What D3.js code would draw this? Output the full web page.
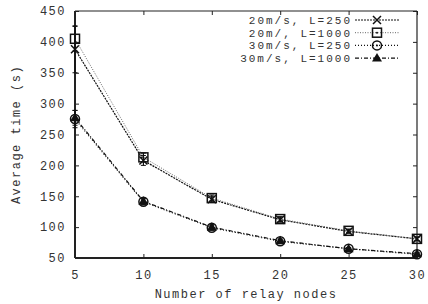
<!DOCTYPE html>
<html>
<head>
<meta charset="utf-8">
<script src="https://cdn.jsdelivr.net/npm/d3@7"></script>
<style>
  body { margin: 0; background: #fff; }
  text { font-family: "Liberation Mono", "DejaVu Sans Mono", monospace; font-size: 12px; letter-spacing: 1.5px; fill: #333; }
  .legend text { font-size: 11px; letter-spacing: 2px; }
</style>
</head>
<body>
<svg id="chart" width="428" height="304"></svg>
<script>
const nodes = [5, 10, 15, 20, 25, 30];
const seriesNames = ['20m/s, L=250', '20m/, L=1000', '30m/s, L=250', '30m/s, L=1000'];
const s1 = [388, 208, 145, 112, 93, 81];
const s2 = [405, 213, 147, 113, 94, 81];
const s3 = [275, 141, 99, 77, 65, 56];
const s4 = [277, 142, 100, 78, 65, 57];
const e1 = [38, 8, 5, 4, 3, 3];
const e2 = [20, 7, 5, 4, 3, 3];
const e3 = [14, 5, 4, 3, 2, 2];
const e4 = [12, 5, 4, 3, 2, 2];
const yTicks = [50, 100, 150, 200, 250, 300, 350, 400, 450];
const xTicks = [5, 10, 15, 20, 25, 30];

const margin = { top: 11, right: 11, bottom: 46, left: 75 };
const w = 428, h = 304;
const width = w - margin.left - margin.right;
const height = h - margin.top - margin.bottom;

const svg = d3.select('#chart');
const g = svg.append('g').attr('transform', `translate(${margin.left},${margin.top})`);

const x = d3.scaleLinear().domain([5, 30]).range([0, width]);
const y = d3.scaleLinear().domain([50, 450]).range([height, 0]);

const styles = [
  { dash: '2,1', color: '#111', width: 1.2, marker: 'cross' },
  { dash: '1,1.5', color: '#666', width: 1, marker: 'square' },
  { dash: '1,2', color: '#111', width: 1.2, marker: 'circle' },
  { dash: '4,2,1,2', color: '#111', width: 1.2, marker: 'triangle' }
];
const values = [s1, s2, s3, s4];
const errors = [e1, e2, e3, e4];

// axes (inward ticks, mirrored)
const axB = d3.axisBottom(x).tickValues(xTicks).tickSize(-4).tickPadding(12);
const axL = d3.axisLeft(y).tickValues(yTicks).tickSize(-4).tickPadding(9);
const axT = d3.axisTop(x).tickValues(xTicks).tickSize(-4).tickFormat('');
const axR = d3.axisRight(y).tickValues(yTicks).tickSize(-4).tickFormat('');

g.append('g').attr('class', 'axis-x').attr('transform', `translate(0,${height})`).call(axB);
g.append('g').attr('class', 'axis-y').call(axL);
g.append('g').attr('class', 'axis-top').call(axT);
g.append('g').attr('class', 'axis-right').attr('transform', `translate(${width},0)`).call(axR);

g.selectAll('.domain').remove();
g.selectAll('.tick line').attr('stroke', '#222');
g.selectAll('.tick text').attr('font-family', null).attr('font-size', null).attr('fill', '#333');

// frame
g.append('line').attr('x1', 0).attr('x2', width).attr('y1', 0).attr('y2', 0).attr('stroke', '#222').attr('stroke-width', 1.2);
g.append('line').attr('x1', width).attr('x2', width).attr('y1', 0).attr('y2', height).attr('stroke', '#222').attr('stroke-width', 1.2);
g.append('line').attr('x1', 0).attr('x2', width).attr('y1', height).attr('y2', height).attr('stroke', '#222').attr('stroke-width', 2);
g.append('line').attr('x1', 0).attr('x2', 0).attr('y1', 0).attr('y2', height).attr('stroke', '#222').attr('stroke-width', 2);

function drawMarker(sel, type, cx, cy) {
  if (type === 'cross') {
    sel.append('path').attr('d', `M${cx - 4},${cy - 4}L${cx + 4},${cy + 4}M${cx - 4},${cy + 4}L${cx + 4},${cy - 4}`)
      .attr('stroke', '#111').attr('stroke-width', 1.5);
  } else if (type === 'square') {
    sel.append('rect').attr('x', cx - 4.5).attr('y', cy - 4.5).attr('width', 9).attr('height', 9)
      .attr('fill', 'none').attr('stroke', '#111').attr('stroke-width', 1.5);
    sel.append('circle').attr('cx', cx).attr('cy', cy).attr('r', 1).attr('fill', '#111');
  } else if (type === 'circle') {
    sel.append('circle').attr('cx', cx).attr('cy', cy).attr('r', 4.5)
      .attr('fill', 'none').attr('stroke', '#111').attr('stroke-width', 1.5);
    sel.append('circle').attr('cx', cx).attr('cy', cy).attr('r', 1).attr('fill', '#111');
  } else if (type === 'triangle') {
    sel.append('path').attr('d', `M${cx},${cy - 5}L${cx + 5},${cy + 3.5}L${cx - 5},${cy + 3.5}Z`)
      .attr('fill', '#111');
  }
}

const line = d3.line().x((d, i) => x(nodes[i])).y(d => y(d));

values.forEach((vals, si) => {
  const st = styles[si];
  const sg = g.append('g').attr('class', 'series');
  sg.append('path').datum(vals).attr('d', line)
    .attr('fill', 'none').attr('stroke', st.color)
    .attr('stroke-width', st.width).attr('stroke-dasharray', st.dash);
  vals.forEach((v, i) => {
    const cx = x(nodes[i]);
    const err = errors[si][i];
    sg.append('line').attr('x1', cx).attr('x2', cx).attr('y1', y(v - err)).attr('y2', y(v + err))
      .attr('stroke', '#111').attr('stroke-width', 1.2);
    [v - err, v + err].forEach(ev => {
      sg.append('line').attr('x1', cx - 2.5).attr('x2', cx + 2.5).attr('y1', y(ev)).attr('y2', y(ev))
        .attr('stroke', '#111').attr('stroke-width', 1);
    });
    drawMarker(sg, st.marker, cx, y(v));
  });
});

// legend
const legend = svg.append('g').attr('class', 'legend');
seriesNames.forEach((name, i) => {
  const ly = 20 + i * 12.7;
  const st = styles[i];
  legend.append('text').attr('x', 352).attr('y', ly).attr('dy', '0.35em')
    .attr('text-anchor', 'end').text(name);
  legend.append('line').attr('x1', 355).attr('x2', 399).attr('y1', ly).attr('y2', ly)
    .attr('stroke', st.color).attr('stroke-width', st.width).attr('stroke-dasharray', st.dash);
  drawMarker(legend, st.marker, 377, ly);
});

// axis titles
svg.append('text').attr('x', margin.left + width / 2).attr('y', 298)
  .attr('text-anchor', 'middle').text('Number of relay nodes');
svg.append('text').attr('transform', `translate(16,${margin.top + height / 2}) rotate(-90)`)
  .attr('text-anchor', 'middle').attr('dy', '0.35em').text('Average time (s)');
</script>
</body>
</html>
